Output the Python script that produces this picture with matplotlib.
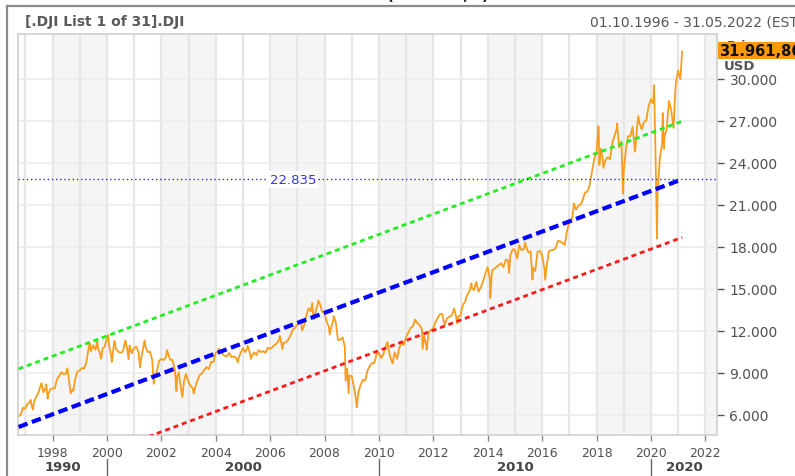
import numpy as np
import pandas as pd
import matplotlib
matplotlib.use("Agg")
import matplotlib.pyplot as plt
from matplotlib.patches import Rectangle
from matplotlib.transforms import blended_transform_factory

# ---------------- data ----------------
# Dow Jones monthly closes, Oct 1996 .. Jan 2021 (month ends)
dji_close = [
    6029, 6522, 6448,                                                        # 1996
    6813, 6878, 6584, 7009, 7331, 7673, 8223, 7622, 7945, 7442, 7823, 7908,  # 1997
    7907, 8546, 8800, 9063, 8900, 8952, 8883, 7539, 7843, 8592, 9117, 9181,  # 1998
    9359, 9307, 9786, 10789, 10560, 10971, 10655, 10829, 10337, 10730, 10878, 11497,  # 1999
    10941, 10128, 10922, 10734, 10522, 10448, 10522, 11215, 10651, 10971, 10415, 10788,  # 2000
    10887, 10495, 9879, 10735, 10912, 10502, 10523, 9950, 8848, 9075, 9852, 10022,  # 2001
    9920, 10106, 10404, 9946, 9925, 9243, 8737, 8664, 7592, 8397, 8896, 8342,  # 2002
    8054, 7891, 7992, 8480, 8850, 8985, 9234, 9416, 9275, 9801, 9782, 10454,  # 2003
    10488, 10584, 10358, 10226, 10188, 10435, 10140, 10174, 10080, 10027, 10428, 10783,  # 2004
    10490, 10766, 10504, 10193, 10467, 10275, 10641, 10482, 10569, 10440, 10806, 10718,  # 2005
    10865, 10993, 11109, 11367, 11168, 11150, 11186, 11381, 11679, 12081, 12221, 12463,  # 2006
    12622, 12269, 12354, 13063, 13628, 13409, 13212, 13358, 13896, 13930, 13372, 13265,  # 2007
    12650, 12266, 12263, 12820, 12638, 11350, 11378, 11544, 10851, 9325, 8829, 8776,  # 2008
    8001, 7063, 7609, 8168, 8500, 8447, 9172, 9496, 9712, 9713, 10345, 10428,  # 2009
    10067, 10325, 10857, 11009, 10137, 9774, 10466, 10015, 10788, 11118, 11006, 11578,  # 2010
    11892, 12226, 12320, 12811, 12570, 12414, 12143, 11614, 10913, 11955, 12046, 12218,  # 2011
    12633, 12952, 13212, 13214, 12393, 12880, 13009, 13091, 13437, 13096, 13026, 13104,  # 2012
    13861, 14054, 14579, 14840, 15116, 14910, 15500, 14810, 15130, 15546, 16086, 16577,  # 2013
    15699, 16322, 16458, 16581, 16717, 16827, 16563, 17098, 17043, 17391, 17828, 17823,  # 2014
    17165, 18133, 17776, 17841, 18011, 17620, 17690, 16528, 16285, 17664, 17720, 17425,  # 2015
    16466, 16517, 17685, 17774, 17787, 17930, 18432, 18401, 18308, 18142, 19124, 19763,  # 2016
    19864, 20812, 20663, 20941, 21009, 21350, 21891, 21948, 22405, 23377, 24272, 24719,  # 2017
    26149, 25029, 24103, 24163, 24416, 24271, 25415, 25965, 26458, 25116, 25538, 23327,  # 2018
    24999, 25916, 25929, 26593, 24815, 26600, 26864, 26403, 26917, 27046, 28051, 28538,  # 2019
    28256, 25409, 21917, 24346, 25383, 25813, 26428, 28430, 27782, 26502, 29639, 30606,  # 2020
    29983,                                                                     # 2021
]

# intra-month extremes and end points
extreme_dates = [
    "1996-10-01", "1997-03-11", "1997-04-11", "1997-08-06", "1997-10-07", "1997-10-27",
    "1998-07-17", "1998-10-08", "1999-05-13", "1999-08-25", "1999-10-15", "2000-01-14",
    "2000-03-07", "2000-04-11", "2000-09-06", "2000-10-18", "2001-03-22", "2001-05-21",
    "2001-09-21", "2002-03-19", "2002-07-23", "2002-08-22", "2002-10-09", "2002-11-27",
    "2003-03-11", "2004-02-11", "2004-10-25", "2005-03-04", "2005-04-20", "2006-05-10",
    "2006-06-13", "2007-02-20", "2007-03-05", "2007-07-19", "2007-08-16", "2007-10-09",
    "2008-03-10", "2008-05-02", "2008-10-10", "2008-11-20", "2009-03-09", "2010-04-26",
    "2010-07-02", "2011-05-02", "2011-08-10", "2011-10-03", "2012-10-05", "2012-11-15",
    "2013-05-28", "2014-02-03", "2014-10-15", "2015-05-19", "2015-08-25", "2016-02-11",
    "2017-03-01", "2018-01-26", "2018-02-08", "2018-04-02", "2018-10-03", "2018-12-24",
    "2019-06-03", "2019-07-15", "2020-02-12", "2020-03-23", "2020-06-08", "2020-06-26",
    "2021-02-24",
]
extreme_values = [
    5904, 7085, 6391, 8259, 8178, 7161,
    9338, 7731, 11107, 11326, 10019, 11723,
    9796, 11287, 11310, 9976, 9389, 11337,
    8236, 10635, 7702, 9053, 7286, 8932,
    7524, 10737, 9750, 10941, 10013, 11642,
    10707, 12786, 12051, 14000, 12846, 14165,
    11741, 13058, 8451, 7552, 6547, 11205,
    9686, 12807, 10720, 10655, 13610, 12542,
    15409, 14373, 16142, 18312, 15666, 15660,
    21115, 26617, 23860, 23644, 26828, 21792,
    24820, 27360, 29551, 18592, 27572, 25016,
    31962,
]

# regression channel
trend_start_date = "1996-10-01"
trend_end_date = "2021-02-24"
trend_start_value = 5143
trend_end_value = 22835
channel_offset = 4150

last_price_label = "31.961,86"
level_label = "22.835"

y_ticks = [6000, 9000, 12000, 15000, 18000, 21000, 24000, 27000, 30000]
x_tick_years = list(range(1998, 2023, 2))
decade_labels = ["1990", "2000", "2010", "2020"]
decade_bounds = [1990, 2000, 2010, 2020]


def dec_year(ts):
    ts = pd.Timestamp(ts)
    start = pd.Timestamp(year=ts.year, month=1, day=1)
    end = pd.Timestamp(year=ts.year + 1, month=1, day=1)
    return ts.year + (ts - start) / (end - start)


month_dates = pd.date_range("1996-10-31", periods=len(dji_close), freq="ME")
series = pd.concat([
    pd.Series(dji_close, index=month_dates),
    pd.Series(extreme_values, index=pd.to_datetime(extreme_dates)),
]).sort_index()
px = np.array([dec_year(d) for d in series.index])
py = series.values.astype(float)

# ---------------- figure ----------------
W, H = 795, 477
fig = plt.figure(figsize=(W / 100, H / 100), dpi=100)
fig.patch.set_facecolor("white")

def fx(x):
    return x / W

def fy(y):
    return 1 - y / H

ax_l, ax_r, ax_t, ax_b = 18, 717, 35, 436
ax = fig.add_axes([fx(ax_l), fy(ax_b), (ax_r - ax_l) / W, (ax_b - ax_t) / H])
ax.set_facecolor("white")

x0, x1 = 1996.728, 2022.43
y0, y1 = 4571, 33214
ax.set_xlim(x0, x1)
ax.set_ylim(y0, y1)

# shaded 2-year bands + yearly grid
for yr in range(1994, 2024, 4):
    ax.axvspan(yr, yr + 2, color="#f5f5f5", lw=0, zorder=0)
for yr in range(1997, 2023):
    ax.axvline(yr, color="#e6e6e6", lw=1.6, zorder=0.5)
for v in y_ticks:
    ax.axhline(v, color="#ececec", lw=1.2, zorder=0.5)

# price
ax.plot(px, py, color="#F99D1C", lw=1.3, zorder=2)

# regression channel
tx = np.array([dec_year(trend_start_date), dec_year(trend_end_date)])
ty = np.array([trend_start_value, trend_end_value], dtype=float)
ax.plot(tx, ty + channel_offset, color="#22ee22", lw=2.0,
        linestyle=(0, (1.8, 1.4)), zorder=3)
ax.plot(tx, ty - channel_offset, color="#ff1a1a", lw=2.0,
        linestyle=(0, (1.8, 1.4)), zorder=3)
ax.plot(tx, ty, color="#0000ff", lw=3.0,
        linestyle=(0, (2.3, 1.1)), zorder=3)

# horizontal level line
ax.axhline(trend_end_value, color="#2a2aff", lw=1.0, linestyle=(0, (1, 2)), zorder=3)
ax.text(2006.84, trend_end_value, level_label, color="#3333ff", fontsize=9.5,
        ha="center", va="center", zorder=4,
        bbox=dict(facecolor="white", edgecolor="none", pad=1.5))

# axes styling
for s in ax.spines.values():
    s.set_color("#d0d0d0")
    s.set_linewidth(1.2)

ax.yaxis.tick_right()
ax.set_yticks(y_ticks)
ax.set_yticklabels([f"{v:,.0f}".replace(",", ".") for v in y_ticks])
ax.tick_params(axis="y", length=5, color="#555555", labelsize=10,
               labelcolor="#505050", pad=4, width=1)
ax.set_xticks(x_tick_years)
ax.set_xticklabels([str(y) for y in x_tick_years])
ax.tick_params(axis="x", length=4, color="#888888", labelsize=9,
               labelcolor="#505050", pad=4, width=1)

# decade row
btf = blended_transform_factory(ax.transData, fig.transFigure)
for b in decade_bounds[1:]:
    ax.plot([b, b], [fy(460), fy(477)], color="#666666", lw=1.0,
            transform=btf, clip_on=False)
edges = [x0] + decade_bounds[1:] + [x1]
for i, lab in enumerate(decade_labels):
    cx = (edges[i] + edges[i + 1]) / 2
    ax.text(cx, fy(468), lab, transform=btf, ha="center", va="center",
            fontsize=9.5, fontweight="bold", color="#444444")

# outer frame
fig.add_artist(plt.Line2D([fx(7), 1.0], [fy(7), fy(7)], color="#8c8c8c", lw=1.6))
fig.add_artist(plt.Line2D([fx(7), fx(7)], [fy(7), 0.0], color="#8c8c8c", lw=1.6))

# header texts
fig.text(fx(25), fy(22), "[.DJI List 1 of 31].DJI", fontsize=10, fontweight="bold",
         color="#5a5a5a", ha="left", va="center")
fig.text(fx(590), fy(22), "01.10.1996 - 31.05.2022 (EST)", fontsize=10,
         color="#555555", ha="left", va="center")
for xx, ch in [(387, "("), (462, ","), (482, ")")]:
    fig.text(fx(xx), 1.0, ch, fontsize=11, fontweight="bold", color="#222222",
             ha="left", va="baseline")

# right side label and last price box
fig.text(fx(727), fy(46), "Price", fontsize=9, fontweight="bold", color="#555555",
         ha="left", va="center", zorder=1)
fig.text(fx(724), fy(67), "USD", fontsize=9.5, fontweight="bold", color="#555555",
         ha="left", va="center")
fig.add_artist(Rectangle((fx(718), fy(60)), (W - 718) / W, 17 / H,
                         transform=fig.transFigure, facecolor="#FA9A0A",
                         edgecolor="none", zorder=5))
fig.text(fx(719), fy(51.5), last_price_label, fontsize=10.5, fontweight="bold",
         color="#111111", ha="left", va="center", zorder=6)

fig.savefig("out.png", dpi=100, facecolor="white")
